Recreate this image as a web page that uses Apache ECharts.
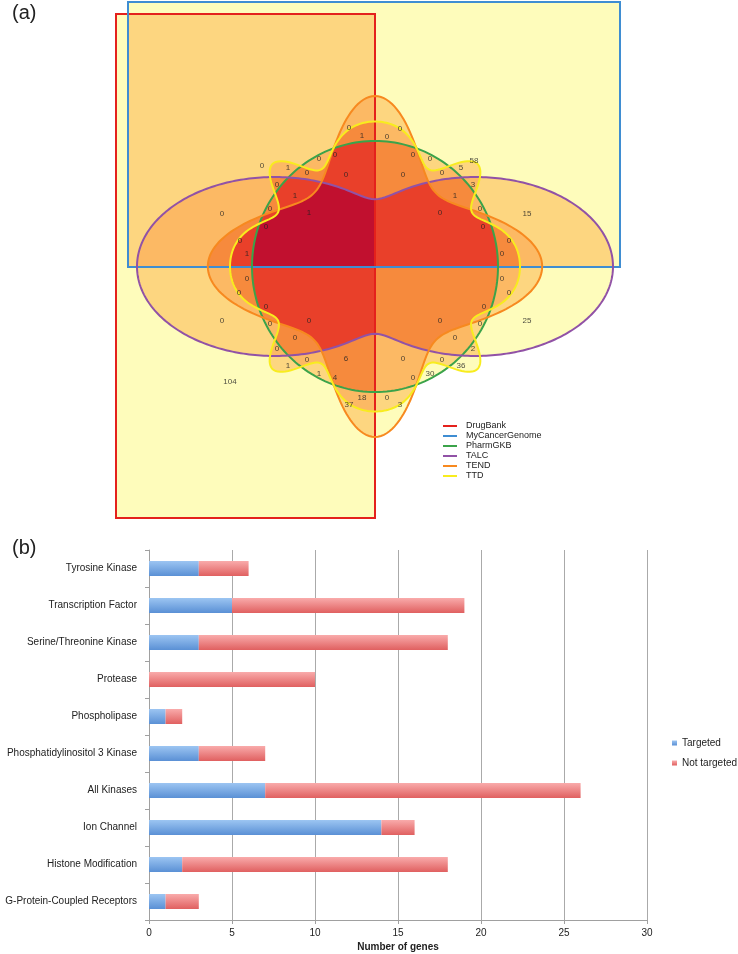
<!DOCTYPE html>
<html>
<head>
<meta charset="utf-8">
<script src="https://cdn.jsdelivr.net/npm/echarts@6/dist/echarts.min.js"></script>
<style>
  html, body { margin: 0; padding: 0; background: #fff; }
  #chart { width: 738px; height: 954px; }
</style>
</head>
<body>
<div id="chart"></div>
<script>
// ---- (a) six-set Venn ----
const setNames = ["DrugBank", "MyCancerGenome", "PharmGKB", "TALC", "TEND", "TTD"];
const setColors = ["#e4211c", "#3f8dd2", "#3ba34a", "#9152a6", "#f7891f", "#f8ec1e"];
// fill colour by how many sets overlap (1..6)
const levelColors = ["#fefcbb", "#fdd680", "#fcb964", "#f68a3d", "#e9402a", "#c1102f"];

// counts of genes per region (same order as regionLabelPos)
const regionCounts = [
  0, 1, 0, 1, 0, 0, 0, 0, 0, 1, 0, 0, 1, 0, 0, 1,
  0, 0, 0, 0, 58, 0, 0, 5, 3, 1, 0, 15, 0, 0, 0, 0,
  0, 0, 0, 0, 0, 0, 0, 0, 0, 6, 1, 1, 4, 104, 18, 37,
  0, 0, 0, 0, 25, 0, 0, 2, 0, 0, 36, 0, 30, 0, 3
];

// where each region count is written (layout only)
const regionLabelPos = [
  [349, 128], [362, 136], [262, 166], [288, 168], [319, 159], [335, 155], [307, 173], [346, 175],
  [277, 185], [295, 196], [222, 214], [270, 209], [309, 213], [266, 227], [240, 241], [247, 254],
  [400, 129], [387, 137], [413, 155], [430, 159], [474, 161], [403, 175], [442, 173], [461, 168],
  [473, 185], [455, 196], [440, 213], [527, 214], [480, 209], [483, 227], [509, 241], [502, 254],
  [247, 279], [239, 293], [266, 307], [222, 321], [270, 324], [309, 321], [295, 338], [277, 349],
  [307, 360], [346, 359], [288, 366], [319, 374], [335, 378], [230, 382], [362, 398], [349, 405],
  [502, 279], [509, 293], [484, 307], [480, 324], [527, 321], [440, 321], [455, 338], [473, 349],
  [403, 359], [442, 360], [461, 366], [413, 378], [430, 374], [387, 398], [400, 405]
];

// ---- (b) bar chart ----
const categories = [
  "G-Protein-Coupled Receptors", "Histone Modification", "Ion Channel", "All Kinases",
  "Phosphatidylinositol 3 Kinase", "Phospholipase", "Protease", "Serine/Threonine Kinase",
  "Transcription Factor", "Tyrosine Kinase"
];
const targeted = [1, 2, 14, 7, 3, 1, 0, 3, 5, 3];
const notTargeted = [2, 16, 2, 19, 4, 1, 10, 15, 14, 3];
const barNames = ["Targeted", "Not targeted"];

// ---- set outlines, in the Venn's own units ----
const CX = 375, CY = 266.5;

function rectPts(x0, y0, x1, y1) {
  return [[x0, y0], [x1, y0], [x1, y1], [x0, y1]];
}

function polarPts(rFn, n) {
  const pts = [];
  for (let i = 0; i < n; i++) {
    const t = 2 * Math.PI * i / n;
    const r = rFn(t);
    pts.push([CX + r * Math.cos(t), CY - r * Math.sin(t)]);
  }
  return pts;
}

function ellipseR(rx, ry) {
  return (t) => 1 / Math.sqrt(Math.cos(t) ** 2 / (rx * rx) + Math.sin(t) ** 2 / (ry * ry));
}

// TEND: smooth union of a wide and a tall ellipse
function tendR(t) {
  const c = Math.cos(t) ** 2, s = Math.sin(t) ** 2;
  const q1 = c / (167 * 167) + s / (68 * 68);
  const q2 = c / (56 * 56) + s / (170 * 170);
  const p = 2.4;
  const q = Math.pow(Math.pow(q1, -p) + Math.pow(q2, -p), -1 / p);
  return 1 / Math.sqrt(q);
}

// TTD: wavy circle
function ttdR(t) {
  return 128 + 17 * Math.cos(8 * t - 1.0 * Math.sin(4 * t));
}

// TALC: two-lobed ellipse
function talcPts() {
  const lobe = (x, c) => {
    const d = (x - c) / 138;
    return Math.abs(d) < 1 ? 89.5 * Math.sqrt(1 - d * d) : 0;
  };
  const top = [], bottom = [];
  const n = 220;
  for (let i = 0; i <= n; i++) {
    const x = CX - 238 * Math.cos(Math.PI * i / n);
    const h = Math.pow(lobe(x, 275) ** 8 + lobe(x, 475) ** 8, 1 / 8);
    top.push([x, CY - h]);
    bottom.push([x, CY + h]);
  }
  return top.concat(bottom.reverse());
}

const setShapes = [
  rectPts(116, 14, 375, 518),
  rectPts(128, 2, 620, 267),
  polarPts(ellipseR(123, 125.5), 200),
  talcPts(),
  polarPts(tendR, 360),
  polarPts(ttdR, 480)
];

// every non-empty combination of sets, fewest sets first
const fillMasks = [];
for (let m = 1; m < 64; m++) fillMasks.push(m);
const bits = (m) => m.toString(2).split("").filter((b) => b === "1").length;
fillMasks.sort((a, b) => bits(a) - bits(b) || a - b);

function mapPts(i, api) {
  return setShapes[i].map((p) => api.coord(p));
}

function renderFill(params, api) {
  const mask = api.value(0);
  const idx = [];
  for (let i = 0; i < 6; i++) if (mask & (1 << i)) idx.push(i);
  let el = {
    type: "polygon",
    shape: { points: mapPts(idx[idx.length - 1], api) },
    style: { fill: levelColors[idx.length - 1] }
  };
  for (let j = idx.length - 2; j >= 0; j--) {
    el = {
      type: "group",
      children: [el],
      clipPath: { type: "polygon", shape: { points: mapPts(idx[j], api) } }
    };
  }
  return el;
}

function outlineSeries(i) {
  return {
    type: "custom",
    name: setNames[i],
    coordinateSystem: "cartesian2d",
    xAxisIndex: 0,
    yAxisIndex: 0,
    clip: false,
    silent: true,
    itemStyle: { color: setColors[i] },
    data: [[i]],
    renderItem: (params, api) => ({
      type: "polygon",
      shape: { points: mapPts(i, api) },
      style: { fill: "none", stroke: setColors[i], lineWidth: 2 }
    })
  };
}

const blueGrad = new echarts.graphic.LinearGradient(0, 0, 0, 1, [
  { offset: 0, color: "#9cc5f2" },
  { offset: 1, color: "#5a90d5" }
]);
const redGrad = new echarts.graphic.LinearGradient(0, 0, 0, 1, [
  { offset: 0, color: "#f9abab" },
  { offset: 1, color: "#e06060" }
]);

const font = "Liberation Sans, Arial, sans-serif";

const option = {
  animation: false,
  textStyle: { fontFamily: font },
  graphic: [
    { type: "text", left: 12, top: 3, style: { text: "(a)", fontSize: 20, fill: "#222", fontFamily: font } },
    { type: "text", left: 12, top: 538, style: { text: "(b)", fontSize: 20, fill: "#222", fontFamily: font } }
  ],
  legend: [
    {
      data: setNames,
      orient: "vertical",
      left: 443,
      top: 421,
      padding: 0,
      icon: "rect",
      itemWidth: 14,
      itemHeight: 2,
      itemGap: 0,
      selectedMode: false,
      textStyle: { fontSize: 9, color: "#222", lineHeight: 10, padding: [0, 0, 0, 4] }
    },
    {
      data: barNames,
      orient: "vertical",
      left: 672,
      top: 737,
      padding: 0,
      icon: "rect",
      itemWidth: 5,
      itemHeight: 5,
      itemGap: 8,
      selectedMode: false,
      textStyle: { fontSize: 10, color: "#222", lineHeight: 12 }
    }
  ],
  grid: [
    { left: 0, top: 0, width: 738, height: 530 },
    { left: 149, top: 550, width: 498, height: 370 }
  ],
  xAxis: [
    { gridIndex: 0, type: "value", min: 0, max: 738, show: false },
    {
      gridIndex: 1,
      type: "value",
      min: 0,
      max: 30,
      interval: 5,
      name: "Number of genes",
      nameLocation: "middle",
      nameGap: 22,
      nameTextStyle: { fontSize: 10, fontWeight: "bold", color: "#222" },
      axisLine: { show: true, lineStyle: { color: "#a0a0a0" } },
      axisTick: { show: true, length: 4, lineStyle: { color: "#a0a0a0" } },
      axisLabel: { fontSize: 10, color: "#222", margin: 8 },
      splitLine: { show: true, lineStyle: { color: "#aaaaaa" } }
    }
  ],
  yAxis: [
    { gridIndex: 0, type: "value", min: 0, max: 530, inverse: true, show: false },
    {
      gridIndex: 1,
      type: "category",
      data: categories,
      axisLine: { show: true, lineStyle: { color: "#a0a0a0" } },
      axisTick: { show: true, length: 4, lineStyle: { color: "#a0a0a0" } },
      axisLabel: { fontSize: 10, color: "#222", margin: 12 },
      splitLine: { show: false }
    }
  ],
  series: [
    {
      type: "custom",
      name: "regions",
      coordinateSystem: "cartesian2d",
      xAxisIndex: 0,
      yAxisIndex: 0,
      clip: false,
      silent: true,
      data: fillMasks.map((m) => [m]),
      renderItem: renderFill
    },
    ...setNames.map((_, i) => outlineSeries(i)),
    {
      type: "scatter",
      name: "counts",
      xAxisIndex: 0,
      yAxisIndex: 0,
      silent: true,
      symbolSize: 1,
      itemStyle: { color: "rgba(0,0,0,0)" },
      label: {
        show: true,
        position: "inside",
        fontSize: 8,
        color: "#222",
        formatter: (p) => String(p.value[2])
      },
      data: regionCounts.map((c, i) => [regionLabelPos[i][0], regionLabelPos[i][1], c])
    },
    {
      type: "bar",
      name: barNames[0],
      xAxisIndex: 1,
      yAxisIndex: 1,
      stack: "genes",
      barWidth: 15,
      data: targeted,
      itemStyle: { color: blueGrad }
    },
    {
      type: "bar",
      name: barNames[1],
      xAxisIndex: 1,
      yAxisIndex: 1,
      stack: "genes",
      barWidth: 15,
      data: notTargeted,
      itemStyle: { color: redGrad }
    }
  ]
};

const chart = echarts.init(document.getElementById("chart"));
chart.setOption(option);
</script>
</body>
</html>
